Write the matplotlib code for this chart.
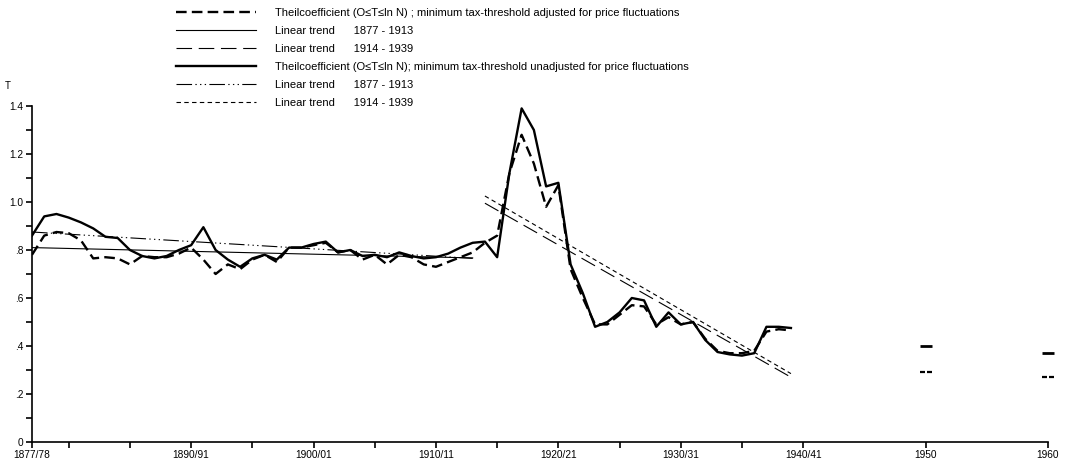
import matplotlib
matplotlib.use("Agg")
import matplotlib.pyplot as plt
from matplotlib.path import Path
import numpy as np

plt.rcParams['font.family'] = ['Liberation Sans', 'DejaVu Sans']

# Theil coefficient, yearly 1877-1939
years = np.arange(1877, 1940)
unadjusted = [0.86, 0.94, 0.95, 0.935, 0.915, 0.89, 0.855, 0.85, 0.80, 0.775,
              0.765, 0.775, 0.80, 0.82, 0.895, 0.80, 0.76, 0.73, 0.765, 0.78,
              0.76, 0.81, 0.81, 0.825, 0.835, 0.79, 0.80, 0.775, 0.78, 0.77,
              0.79, 0.775, 0.765, 0.77, 0.785, 0.81, 0.83, 0.835, 0.77, 1.12,
              1.39, 1.30, 1.065, 1.08, 0.74, 0.62, 0.48, 0.50, 0.54, 0.60,
              0.59, 0.48, 0.54, 0.49, 0.50, 0.425, 0.375, 0.365, 0.36, 0.37,
              0.48, 0.48, 0.475]
adjusted = [0.78, 0.86, 0.875, 0.87, 0.84, 0.765, 0.77, 0.765, 0.74, 0.775,
            0.77, 0.77, 0.785, 0.81, 0.76, 0.70, 0.74, 0.72, 0.76, 0.78,
            0.75, 0.81, 0.81, 0.82, 0.83, 0.79, 0.80, 0.76, 0.78, 0.74,
            0.78, 0.77, 0.74, 0.73, 0.75, 0.77, 0.79, 0.83, 0.86, 1.12,
            1.28, 1.16, 0.98, 1.07, 0.72, 0.60, 0.49, 0.49, 0.53, 0.57,
            0.565, 0.49, 0.52, 0.49, 0.50, 0.43, 0.38, 0.37, 0.37, 0.38,
            0.46, 0.47, 0.465]

# linear trends (end points)
trend1_years = [1877, 1913]
trend2_years = [1914, 1939]
adj_trend1 = [0.81, 0.767]
adj_trend2 = [0.995, 0.27]
unadj_trend1 = [0.875, 0.765]
unadj_trend2 = [1.025, 0.285]

# isolated later observations
later_years = [1950, 1960]
later_unadjusted = [0.40, 0.37]
later_adjusted = [0.29, 0.27]

xtick_pos = [1877, 1890, 1900, 1910, 1920, 1930, 1940, 1950, 1960]
xtick_labels = ["1877/78", "1890/91", "1900/01", "1910/11", "1920/21",
                "1930/31", "1940/41", "1950", "1960"]
xminor_pos = [1880, 1885, 1895, 1905, 1915, 1925, 1935]
ytick_pos = [0, 0.2, 0.4, 0.6, 0.8, 1.0, 1.2, 1.4]
ytick_labels = ["0", ".2", ".4", ".6", ".8", "1.0", "1.2", "1.4"]

fig = plt.figure(figsize=(10.66, 4.62), dpi=100)
ax = fig.add_axes([32 / 1066, 20 / 462, 1016 / 1066, 336 / 462])

ls_adj = (0, (4.5, 2.2))
ls_long = (0, (14, 6))
ls_dd = (0, (14, 3, 1.2, 3, 1.2, 3, 1.2, 3))
ls_short = (0, (4, 3))

l_adj, = ax.plot(years, adjusted, color="black", lw=1.7, ls=ls_adj)
l_at1, = ax.plot(trend1_years, adj_trend1, color="black", lw=0.8)
l_at2, = ax.plot(trend2_years, adj_trend2, color="black", lw=0.8, ls=ls_long)
l_un, = ax.plot(years, unadjusted, color="black", lw=1.7)
l_ut1, = ax.plot(trend1_years, unadj_trend1, color="black", lw=0.8, ls=ls_dd)
l_ut2, = ax.plot(trend2_years, unadj_trend2, color="black", lw=0.8, ls=ls_short)

two_dash = Path([(-1, 0), (-0.2, 0), (0.2, 0), (1, 0)],
                [Path.MOVETO, Path.LINETO, Path.MOVETO, Path.LINETO])
ax.plot(later_years, later_unadjusted, ls="none", marker="_", ms=9, mew=2,
        color="black", clip_on=False)
ax.plot(later_years, later_adjusted, ls="none", marker=two_dash, ms=9, mew=1.6,
        color="black", clip_on=False)

ax.set_xlim(1877, 1960)
ax.set_ylim(0, 1.4)
ax.spines["top"].set_visible(False)
ax.spines["right"].set_visible(False)
ax.spines["left"].set_linewidth(1.2)
ax.spines["bottom"].set_linewidth(1.2)

ax.set_xticks(xtick_pos)
ax.set_xticklabels(xtick_labels, fontsize=7.3)
ax.set_xticks(xminor_pos, minor=True)
ax.set_yticks(ytick_pos)
ax.set_yticklabels(ytick_labels, fontsize=7.3)
ax.set_yticks(np.arange(0.1, 1.4, 0.2), minor=True)
ax.tick_params(which="both", direction="out", length=4, width=1.2, pad=2)

ax.text(-0.027, 1.05, "T", transform=ax.transAxes, fontsize=7, ha="left")

handles = [l_adj, l_at1, l_at2, l_un, l_ut1, l_ut2]
labels = [
    "Theilcoefficient (O\u2264T\u2264ln N) ; minimum tax-threshold adjusted for price fluctuations",
    "Linear trend      1877 - 1913",
    "Linear trend      1914 - 1939",
    "Theilcoefficient (O\u2264T\u2264ln N); minimum tax-threshold unadjusted for price fluctuations",
    "Linear trend      1877 - 1913",
    "Linear trend      1914 - 1939",
]
fig.legend(handles, labels, loc="upper left", bbox_to_anchor=(0.165, 0.9835),
           frameon=False, fontsize=8, handlelength=7.2, handletextpad=1.7,
           labelspacing=0.72, borderpad=0, borderaxespad=0)

fig.savefig("out.png", dpi=100)
